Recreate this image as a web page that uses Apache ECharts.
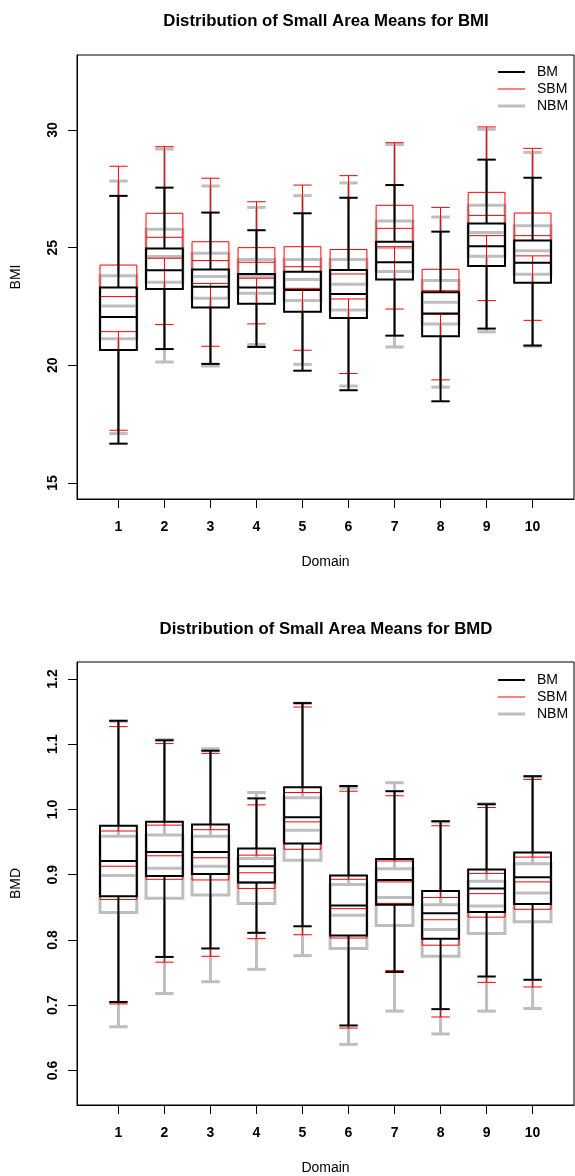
<!DOCTYPE html>
<html>
<head>
<meta charset="utf-8">
<script src="https://cdn.jsdelivr.net/npm/echarts@6/dist/echarts.min.js"></script>
<style>
html,body{margin:0;padding:0;background:#fff;}
#chart{width:575px;height:1176px;}
</style>
</head>
<body>
<div id="chart"></div>
<script>
// Domains (x categories)
const domains = [1, 2, 3, 4, 5, 6, 7, 8, 9, 10];
const bmiTicks = [15, 20, 25, 30];
const bmdTicks = [0.6, 0.7, 0.8, 0.9, 1.0, 1.1, 1.2];

// Five-number summaries per domain: [lower whisker, Q1, median, Q3, upper whisker]
const bmiBM = [
  [16.67, 20.65, 22.05, 23.31, 27.20],
  [20.69, 23.24, 24.04, 24.96, 27.55],
  [20.06, 22.46, 23.34, 24.07, 26.49],
  [20.78, 22.62, 23.31, 23.88, 25.74],
  [19.77, 22.28, 23.20, 23.98, 26.46],
  [18.94, 22.01, 23.03, 24.05, 27.12],
  [21.26, 23.65, 24.38, 25.25, 27.66],
  [18.47, 21.23, 22.20, 23.10, 25.68],
  [21.56, 24.22, 25.06, 26.03, 28.74],
  [20.84, 23.51, 24.36, 25.30, 27.97]
];
const bmiSBM = [
  [17.24, 21.43, 22.92, 24.26, 28.46],
  [21.73, 24.55, 25.44, 26.46, 29.29],
  [20.81, 23.48, 24.45, 25.25, 27.95],
  [21.76, 23.70, 24.38, 25.00, 26.95],
  [20.64, 23.27, 24.19, 25.04, 27.66],
  [19.65, 22.82, 23.88, 24.92, 28.06],
  [22.39, 25.04, 25.82, 26.80, 29.46],
  [19.38, 22.17, 23.17, 24.08, 26.71],
  [22.75, 25.51, 26.37, 27.35, 30.13],
  [21.91, 24.65, 25.51, 26.47, 29.22]
];
const bmiNBM = [
  [17.10, 21.13, 22.52, 23.81, 27.83],
  [20.14, 23.53, 24.62, 25.78, 29.19],
  [19.97, 22.85, 23.77, 24.76, 27.62],
  [20.88, 23.06, 23.77, 24.50, 26.71],
  [20.04, 22.75, 23.65, 24.50, 27.21],
  [19.12, 22.35, 23.44, 24.50, 27.75],
  [20.78, 23.99, 25.00, 26.13, 29.38],
  [19.07, 21.76, 22.68, 23.60, 26.30],
  [21.42, 24.63, 25.64, 26.80, 30.03],
  [20.81, 23.87, 24.87, 25.93, 29.05]
];
const bmdBM = [
  [0.705, 0.867, 0.921, 0.975, 1.136],
  [0.774, 0.898, 0.935, 0.981, 1.106],
  [0.787, 0.901, 0.935, 0.977, 1.090],
  [0.811, 0.888, 0.913, 0.940, 1.017],
  [0.821, 0.948, 0.988, 1.034, 1.163],
  [0.669, 0.807, 0.853, 0.899, 1.036],
  [0.751, 0.854, 0.892, 0.924, 1.028],
  [0.694, 0.802, 0.841, 0.875, 0.982],
  [0.744, 0.843, 0.879, 0.908, 1.008],
  [0.739, 0.855, 0.896, 0.934, 1.051]
];
const bmdSBM = [
  [0.702, 0.862, 0.913, 0.967, 1.127],
  [0.766, 0.893, 0.929, 0.976, 1.101],
  [0.775, 0.892, 0.926, 0.969, 1.086],
  [0.802, 0.879, 0.903, 0.930, 1.007],
  [0.808, 0.939, 0.981, 1.026, 1.157],
  [0.665, 0.803, 0.848, 0.893, 1.028],
  [0.753, 0.856, 0.889, 0.921, 1.021],
  [0.682, 0.792, 0.831, 0.865, 0.975],
  [0.735, 0.835, 0.871, 0.902, 1.003],
  [0.728, 0.847, 0.889, 0.927, 1.046]
];
const bmdNBM = [
  [0.667, 0.842, 0.899, 0.959, 1.135],
  [0.718, 0.864, 0.910, 0.961, 1.107],
  [0.736, 0.869, 0.913, 0.959, 1.093],
  [0.755, 0.856, 0.888, 0.925, 1.026],
  [0.776, 0.922, 0.968, 1.018, 1.163],
  [0.640, 0.787, 0.838, 0.885, 1.033],
  [0.691, 0.822, 0.865, 0.909, 1.041],
  [0.656, 0.775, 0.816, 0.854, 0.981],
  [0.691, 0.810, 0.852, 0.890, 1.009],
  [0.695, 0.828, 0.872, 0.917, 1.050]
];

const FONT = '"Liberation Sans", Arial, Helvetica, sans-serif';
const COLORS = { BM: '#000000', SBM: '#ff0000', NBM: '#bebebe' };
const WIDTHS = { BM: 2, SBM: 1, NBM: 3 };

function makeRender(color, lw) {
  return function (params, api) {
    const x = api.value(0);
    const pLo = api.coord([x, api.value(1)]);
    const pQ1 = api.coord([x, api.value(2)]);
    const pMed = api.coord([x, api.value(3)]);
    const pQ3 = api.coord([x, api.value(4)]);
    const pHi = api.coord([x, api.value(5)]);
    const bw = api.size([0.8, 0])[0] / 2;
    const cw = api.size([0.4, 0])[0] / 2;
    const cx = pMed[0];
    const st = { stroke: color, lineWidth: lw, fill: null };
    const ln = (x1, y1, x2, y2) => ({ type: 'line', shape: { x1, y1, x2, y2 }, style: st });
    return {
      type: 'group',
      children: [
        ln(cx, pHi[1], cx, pQ3[1]),
        ln(cx, pQ1[1], cx, pLo[1]),
        ln(cx - cw, pHi[1], cx + cw, pHi[1]),
        ln(cx - cw, pLo[1], cx + cw, pLo[1]),
        { type: 'rect', shape: { x: cx - bw, y: pQ3[1], width: 2 * bw, height: pQ1[1] - pQ3[1] }, style: st },
        ln(cx - bw, pMed[1], cx + bw, pMed[1])
      ]
    };
  };
}

function seriesFor(name, arr, g) {
  return {
    type: 'custom',
    name: name,
    xAxisIndex: g,
    yAxisIndex: g,
    itemStyle: { color: COLORS[name] },
    renderItem: makeRender(COLORS[name], WIDTHS[name]),
    encode: { x: 0, y: [1, 2, 3, 4, 5] },
    data: domains.map((d, i) => [d].concat(arr[i])),
    silent: true
  };
}

function xAxisFor(g) {
  return {
    type: 'value', gridIndex: g, min: 0.1, max: 10.9,
    axisLine: { show: true, onZero: false, lineStyle: { color: '#000', width: 1 } },
    axisTick: { show: true, length: 9, lineStyle: { color: '#000', width: 1 }, customValues: domains },
    axisLabel: { customValues: domains, fontWeight: 'bold', fontSize: 14, color: '#000', margin: 21, fontFamily: FONT },
    splitLine: { show: false },
    name: 'Domain', nameLocation: 'middle', nameGap: 56,
    nameTextStyle: { fontSize: 14, color: '#000', fontFamily: FONT }
  };
}

function yAxisFor(g, min, max, ticks, name, fmt) {
  return {
    type: 'value', gridIndex: g, min: min, max: max,
    axisLine: { show: true, onZero: false, lineStyle: { color: '#000', width: 1 } },
    axisTick: { show: true, length: 9, lineStyle: { color: '#000', width: 1 }, customValues: ticks },
    axisLabel: { customValues: ticks, rotate: 90, fontWeight: 'bold', fontSize: 14, color: '#000', margin: 17, fontFamily: FONT, formatter: fmt },
    splitLine: { show: false },
    name: name, nameLocation: 'middle', nameRotate: 90, nameGap: 54,
    nameTextStyle: { fontSize: 14, color: '#000', fontFamily: FONT }
  };
}

function legendFor(name, top) {
  return {
    left: 498, top: top, padding: 0, orient: 'vertical',
    itemWidth: 27, itemHeight: WIDTHS[name], selectedMode: false,
    textStyle: { fontSize: 14, color: '#000', fontFamily: FONT, padding: [0, 0, 0, 7] },
    data: [{ name: name, icon: 'rect', itemStyle: { color: COLORS[name] } }]
  };
}

const chart = echarts.init(document.getElementById('chart'), null, { renderer: 'canvas' });
chart.setOption({
  animation: false,
  backgroundColor: '#ffffff',
  title: [
    { text: 'Distribution of Small Area Means for BMI', left: 326, top: 13, textAlign: 'center', padding: 0,
      textStyle: { fontSize: 16.8, fontWeight: 'bold', color: '#000', fontFamily: FONT } },
    { text: 'Distribution of Small Area Means for BMD', left: 326, top: 621, textAlign: 'center', padding: 0,
      textStyle: { fontSize: 16.8, fontWeight: 'bold', color: '#000', fontFamily: FONT } }
  ],
  grid: [
    { left: 77, top: 55, width: 497, height: 444, show: true, borderColor: '#000', borderWidth: 1, backgroundColor: 'transparent' },
    { left: 77, top: 662, width: 497, height: 444, show: true, borderColor: '#000', borderWidth: 1, backgroundColor: 'transparent' }
  ],
  xAxis: [xAxisFor(0), xAxisFor(1)],
  yAxis: [
    yAxisFor(0, 14.318, 33.187, bmiTicks, 'BMI', v => String(Math.round(v))),
    yAxisFor(1, 0.5471, 1.226, bmdTicks, 'BMD', v => Number(v).toFixed(1))
  ],
  legend: [
    legendFor('BM', 65), legendFor('SBM', 82), legendFor('NBM', 99),
    legendFor('BM', 673), legendFor('SBM', 690), legendFor('NBM', 707)
  ],
  series: [
    seriesFor('NBM', bmiNBM, 0), seriesFor('SBM', bmiSBM, 0), seriesFor('BM', bmiBM, 0),
    seriesFor('NBM', bmdNBM, 1), seriesFor('SBM', bmdSBM, 1), seriesFor('BM', bmdBM, 1)
  ]
});
</script>
</body>
</html>
